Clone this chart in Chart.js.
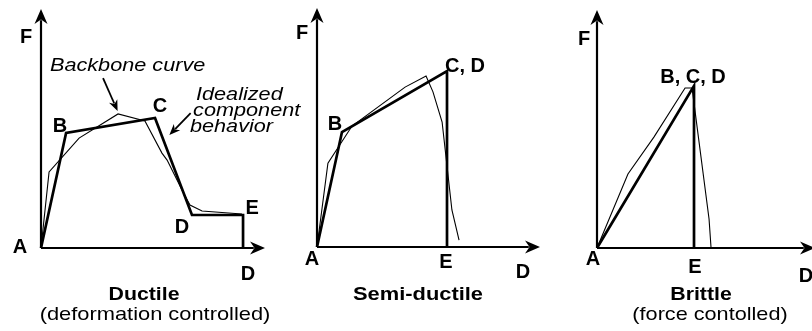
<!DOCTYPE html>
<html>
<head>
<meta charset="utf-8">
<script src="https://cdn.jsdelivr.net/npm/chart.js@4.4.0/dist/chart.umd.min.js"></script>
<style>
  html, body { margin: 0; padding: 0; background: #fff; }
  #wrap { position: relative; width: 812px; height: 331px; overflow: hidden; }
  .panel { position: absolute; top: 0; height: 331px; }
</style>
</head>
<body>
<div id="wrap">
  <div class="panel" style="left:0;width:320px"><canvas id="ductileChart"></canvas></div>
  <div class="panel" style="left:280px;width:270px"><canvas id="semiChart"></canvas></div>
  <div class="panel" style="left:550px;width:266px"><canvas id="brittleChart"></canvas></div>
</div>
<script>
// Force-deformation curves, units are % of axis length (D, F)
const ductileIdealX = [0, 11.2, 50.9, 67.4, 90.2, 90.2];
const ductileIdealY = [0, 48.1, 54.4, 13.8, 13.8, 0];
const ductileBackboneX = [0, 3.6, 17.0, 34.4, 46.4, 54.0, 56.3, 63.4, 66.5, 71.9, 89.7];
const ductileBackboneY = [0, 31.8, 46.0, 56.1, 53.1, 39.7, 36.8, 23.4, 18.0, 15.5, 14.2];

const semiIdealX = [0, 11.2, 58.3, 58.3];
const semiIdealY = [0, 48.1, 73.6, 0];
const semiBackboneX = [0, 4.9, 15.7, 39.5, 48.9, 52.0, 56.1, 60.5, 63.7];
const semiBackboneY = [0, 35.1, 50.6, 66.9, 71.5, 64.9, 52.3, 15.5, 2.9];

const brittleIdealX = [0, 44.5, 44.5];
const brittleIdealY = [0, 68.1, 0];
const brittleBackboneX = [0, 14.2, 26.1, 40.4, 43.6, 51.4, 52.3];
const brittleBackboneY = [0, 31.1, 46.6, 67.2, 67.2, 12.2, 0.3];

const BOLD = "bold 20px 'Liberation Sans', Arial, sans-serif";
const TITLE = "bold 19px 'Liberation Sans', Arial, sans-serif";
const PLAIN = "19px 'Liberation Sans', Arial, sans-serif";
const ITALIC = "italic 19px 'Liberation Sans', Arial, sans-serif";

function toPoints(xs, ys) {
  return xs.map((x, i) => ({ x: x, y: ys[i] }));
}

function drawText(ctx, text, x, y, font, align, stretch) {
  ctx.save();
  ctx.font = font;
  ctx.fillStyle = '#000';
  ctx.textAlign = align;
  ctx.textBaseline = 'alphabetic';
  ctx.translate(x, y);
  ctx.scale(stretch, 1);
  ctx.fillText(text, 0, 0);
  ctx.restore();
}

function arrowHead(ctx, x1, y1, x2, y2, len, half) {
  const a = Math.atan2(y2 - y1, x2 - x1);
  const cos = Math.cos(a), sin = Math.sin(a);
  const bx = x2 - len * cos, by = y2 - len * sin;
  const nx = x2 - len * 0.7 * cos, ny = y2 - len * 0.7 * sin;
  ctx.beginPath();
  ctx.moveTo(x2, y2);
  ctx.lineTo(bx - half * sin, by + half * cos);
  ctx.lineTo(nx, ny);
  ctx.lineTo(bx + half * sin, by - half * cos);
  ctx.closePath();
  ctx.fill();
}

function drawArrow(ctx, x1, y1, x2, y2, width, len, half) {
  const a = Math.atan2(y2 - y1, x2 - x1);
  ctx.save();
  ctx.strokeStyle = '#000';
  ctx.fillStyle = '#000';
  ctx.lineWidth = width;
  ctx.beginPath();
  ctx.moveTo(x1, y1);
  ctx.lineTo(x2 - len * 0.75 * Math.cos(a), y2 - len * 0.75 * Math.sin(a));
  ctx.stroke();
  arrowHead(ctx, x1, y1, x2, y2, len, half);
  ctx.restore();
}

// axes with arrows + labels, all placed through the chart scales
const sketchPlugin = {
  id: 'sketch',
  beforeDatasetsDraw(chart) {
    const ctx = chart.ctx;
    const xs = chart.scales.x, ys = chart.scales.y;
    const x0 = xs.getPixelForValue(0), y0 = ys.getPixelForValue(0);
    drawArrow(ctx, x0, y0, x0, ys.getPixelForValue(ys.max), 2.2, 15, 6.5);
    drawArrow(ctx, x0, y0, xs.getPixelForValue(xs.max), y0, 2.2, 15, 6.5);
  },
  afterDraw(chart, args, opts) {
    const ctx = chart.ctx;
    const xs = chart.scales.x, ys = chart.scales.y;
    (opts.labels || []).forEach(l => {
      const px = xs.getPixelForValue(l.x) + (l.dx || 0);
      const py = ys.getPixelForValue(l.y) + (l.dy || 0);
      drawText(ctx, l.text, px, py, l.font || BOLD, l.align || 'center', l.stretch || 1);
    });
    (opts.pointers || []).forEach(p => {
      drawArrow(ctx, xs.getPixelForValue(p.x1), ys.getPixelForValue(p.y1),
        xs.getPixelForValue(p.x2), ys.getPixelForValue(p.y2), 1.8, 11, 4.5);
    });
  }
};

function makePanel(id, idealX, idealY, backX, backY, padding, labels, pointers) {
  const ctx = document.getElementById(id).getContext('2d');
  return new Chart(ctx, {
    type: 'line',
    data: {
      datasets: [
        {
          label: 'Backbone curve',
          data: toPoints(backX, backY),
          borderColor: '#000',
          borderWidth: 1.1,
          pointRadius: 0,
          tension: 0,
          clip: false
        },
        {
          label: 'Idealized component behavior',
          data: toPoints(idealX, idealY),
          borderColor: '#000',
          borderWidth: 2.7,
          pointRadius: 0,
          tension: 0,
          borderJoinStyle: 'miter',
          clip: false
        }
      ]
    },
    options: {
      responsive: true,
      maintainAspectRatio: false,
      animation: false,
      layout: { padding: padding },
      plugins: {
        legend: { display: false },
        tooltip: { enabled: false },
        sketch: { labels: labels, pointers: pointers }
      },
      scales: {
        x: { type: 'linear', min: 0, max: 100, display: false },
        y: { type: 'linear', min: 0, max: 100, display: false }
      }
    },
    plugins: [sketchPlugin]
  });
}

window.charts = {};

window.charts.ductile = makePanel('ductileChart',
  ductileIdealX, ductileIdealY, ductileBackboneX, ductileBackboneY,
  { left: 41, top: 9, right: 55, bottom: 83 },
  [
    { text: 'F', x: 0, y: 100, dx: -15, dy: 34 },
    { text: 'A', x: 0, y: 0, dx: -21, dy: 5 },
    { text: 'B', x: ductileIdealX[1], y: ductileIdealY[1], dx: -6, dy: -1 },
    { text: 'C', x: ductileIdealX[2], y: ductileIdealY[2], dx: 5, dy: -6 },
    { text: 'D', x: ductileIdealX[3], y: ductileIdealY[3], dx: -10, dy: 18 },
    { text: 'E', x: ductileIdealX[4], y: ductileIdealY[4], dx: 9, dy: -1 },
    { text: 'D', x: 100, y: 0, dx: -17, dy: 32 },
    { text: 'Ductile', x: 0, y: 0, dx: 103, dy: 52, font: TITLE, stretch: 1.12 },
    { text: '(deformation controlled)', x: 0, y: 0, dx: 114, dy: 72, font: PLAIN, stretch: 1.15 },
    { text: 'Backbone curve', x: 4.0, y: 74.1, font: ITALIC, align: 'left', stretch: 1.14 },
    { text: 'Idealized', x: 69.2, y: 61.9, font: ITALIC, align: 'left', stretch: 1.14 },
    { text: 'component', x: 67.9, y: 55.2, font: ITALIC, align: 'left', stretch: 1.14 },
    { text: 'behavior', x: 66.5, y: 48.5, font: ITALIC, align: 'left', stretch: 1.14 }
  ],
  [
    { x1: 27.7, y1: 71.1, x2: 34.2, y2: 57.3 },
    { x1: 66.8, y1: 56.4, x2: 57.3, y2: 47.3 }
  ]);

window.charts.semi = makePanel('semiChart',
  semiIdealX, semiIdealY, semiBackboneX, semiBackboneY,
  { left: 37, top: 8, right: 10, bottom: 84 },
  [
    { text: 'F', x: 0, y: 100, dx: -15, dy: 31 },
    { text: 'A', x: 0, y: 0, dx: -5, dy: 18 },
    { text: 'B', x: semiIdealX[1], y: semiIdealY[1], dx: -7, dy: -2 },
    { text: 'C, D', x: semiIdealX[2], y: semiIdealY[2], dx: 18, dy: 1 },
    { text: 'E', x: semiIdealX[3], y: 0, dx: -1, dy: 21 },
    { text: 'D', x: 100, y: 0, dx: -17, dy: 31 },
    { text: 'Semi-ductile', x: 0, y: 0, dx: 101, dy: 53, font: TITLE, stretch: 1.15 }
  ],
  []);

window.charts.brittle = makePanel('brittleChart',
  brittleIdealX, brittleIdealY, brittleBackboneX, brittleBackboneY,
  { left: 47, top: 10, right: 1, bottom: 83 },
  [
    { text: 'F', x: 0, y: 100, dx: -13, dy: 35 },
    { text: 'A', x: 0, y: 0, dx: -4, dy: 17 },
    { text: 'B, C, D', x: brittleIdealX[1], y: brittleIdealY[1], dx: -1, dy: -3 },
    { text: 'E', x: brittleIdealX[2], y: 0, dx: 1, dy: 25 },
    { text: 'D', x: 100, y: 0, dx: -9, dy: 34 },
    { text: 'Brittle', x: 0, y: 0, dx: 104, dy: 52, font: TITLE, stretch: 1.12 },
    { text: '(force contolled)', x: 0, y: 0, dx: 113, dy: 72, font: PLAIN, stretch: 1.14 }
  ],
  []);
</script>
</body>
</html>
